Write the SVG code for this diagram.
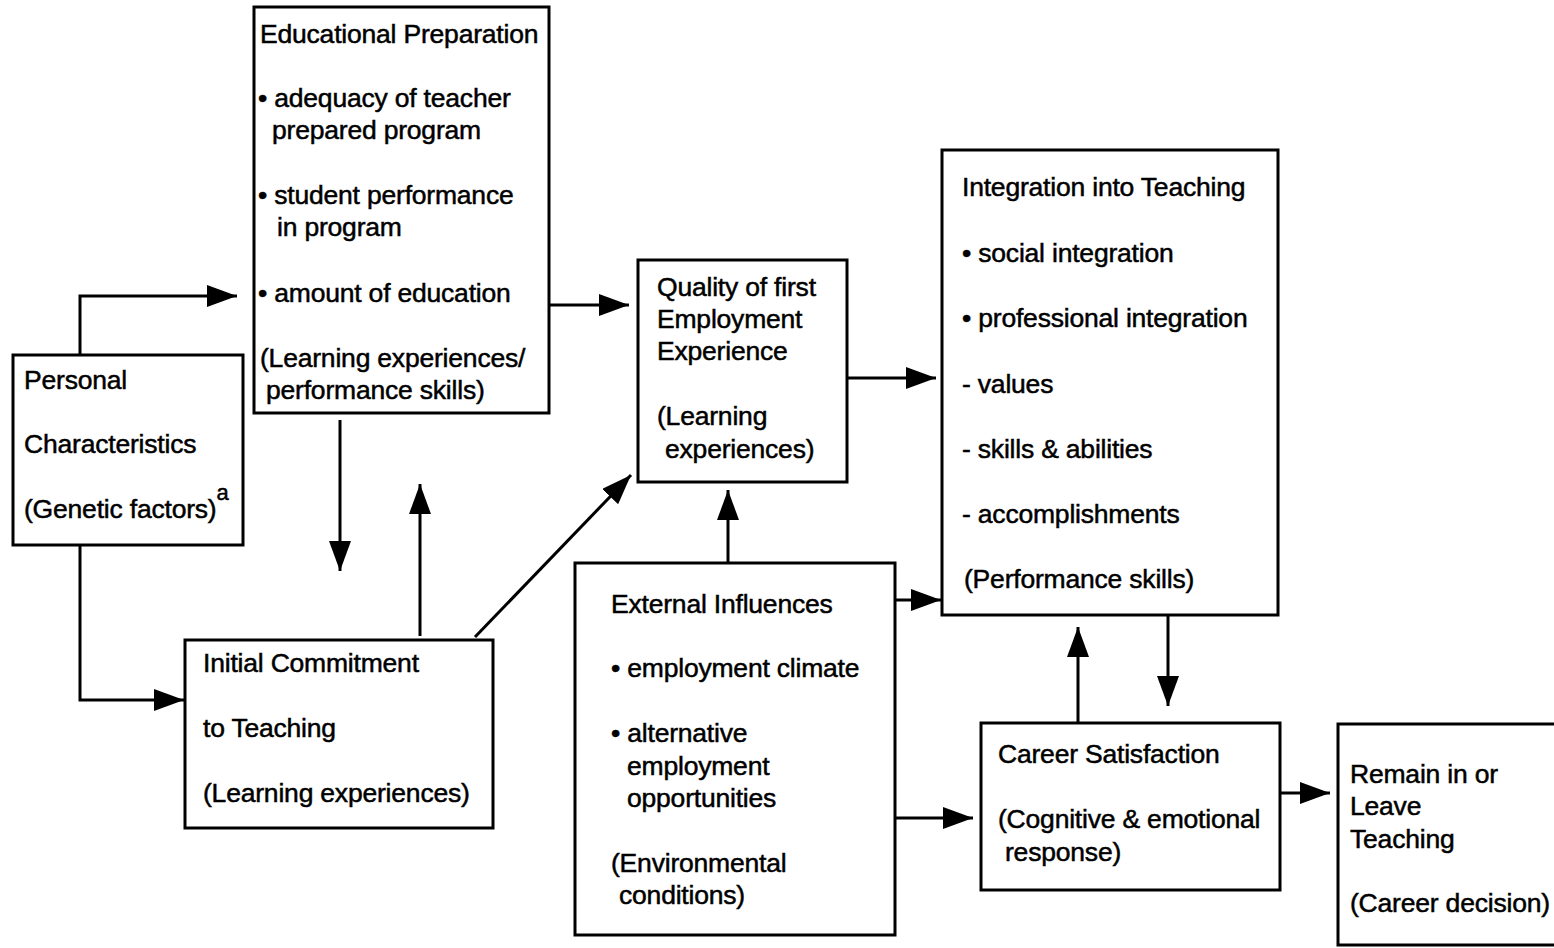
<svg xmlns="http://www.w3.org/2000/svg" width="1554" height="948" viewBox="0 0 1554 948">
<style>
.box{fill:#fff;stroke:#000;stroke-width:3}
.t{font-family:"Liberation Sans",Arial,sans-serif;font-size:26.5px;fill:#000;stroke:#000;stroke-width:0.5;letter-spacing:-0.2px}
.c{fill:none;stroke:#000;stroke-width:3}
</style>
<defs>
<marker id="arr" viewBox="0 0 30 22" refX="30" refY="11" markerWidth="30" markerHeight="22" markerUnits="userSpaceOnUse" orient="auto">
<path d="M0,0 L30,11 L0,22 z" fill="#000"/>
</marker>
</defs>
<rect width="1554" height="948" fill="#fff"/>
<g id="connectors">
<path class="c" d="M80,355 V296 H237" marker-end="url(#arr)"/>
<path class="c" d="M80,545 V700 H184" marker-end="url(#arr)"/>
<path class="c" d="M340,420 V571" marker-end="url(#arr)"/>
<path class="c" d="M420,636 V484" marker-end="url(#arr)"/>
<path class="c" d="M475,637 L631,475" marker-end="url(#arr)"/>
<path class="c" d="M549,305 H629" marker-end="url(#arr)"/>
<path class="c" d="M847,378 H936" marker-end="url(#arr)"/>
<path class="c" d="M728,563 V490" marker-end="url(#arr)"/>
<path class="c" d="M895,600 H941" marker-end="url(#arr)"/>
<path class="c" d="M895,818 H973" marker-end="url(#arr)"/>
<path class="c" d="M1168,615 V706" marker-end="url(#arr)"/>
<path class="c" d="M1078,723 V627" marker-end="url(#arr)"/>
<path class="c" d="M1280,793 H1330" marker-end="url(#arr)"/>
</g>
<g id="personal">
<rect class="box" x="13" y="355" width="230" height="190"/>
<text class="t" x="24" y="389">Personal</text>
<text class="t" x="24" y="453">Characteristics</text>
<text class="t" x="24" y="518">(Genetic factors)<tspan dy="-18" font-size="22">a</tspan></text>
</g>
<g id="educational">
<rect class="box" x="254" y="7" width="295" height="406"/>
<text class="t" x="260" y="43">Educational Preparation</text>
<text class="t" x="258" y="107">• adequacy of teacher</text>
<text class="t" x="272" y="139">prepared program</text>
<text class="t" x="258" y="204">• student performance</text>
<text class="t" x="277" y="236">in program</text>
<text class="t" x="258" y="302">• amount of education</text>
<text class="t" x="260" y="367">(Learning experiences/</text>
<text class="t" x="266" y="399">performance skills)</text>
</g>
<g id="quality">
<rect class="box" x="638" y="260" width="209" height="222"/>
<text class="t" x="657" y="296">Quality of first</text>
<text class="t" x="657" y="328">Employment</text>
<text class="t" x="657" y="360">Experience</text>
<text class="t" x="657" y="425">(Learning</text>
<text class="t" x="665" y="458">experiences)</text>
</g>
<g id="integration">
<rect class="box" x="942" y="150" width="336" height="465"/>
<text class="t" x="962" y="196">Integration into Teaching</text>
<text class="t" x="962" y="262">• social integration</text>
<text class="t" x="962" y="327">• professional integration</text>
<text class="t" x="962" y="393">- values</text>
<text class="t" x="962" y="458">- skills &amp; abilities</text>
<text class="t" x="962" y="523">- accomplishments</text>
<text class="t" x="964" y="588">(Performance skills)</text>
</g>
<g id="initial">
<rect class="box" x="185" y="640" width="308" height="188"/>
<text class="t" x="203" y="672">Initial Commitment</text>
<text class="t" x="203" y="737">to Teaching</text>
<text class="t" x="203" y="802">(Learning experiences)</text>
</g>
<g id="external">
<rect class="box" x="575" y="563" width="320" height="372"/>
<text class="t" x="611" y="613">External Influences</text>
<text class="t" x="611" y="677">• employment climate</text>
<text class="t" x="611" y="742">• alternative</text>
<text class="t" x="627" y="775">employment</text>
<text class="t" x="627" y="807">opportunities</text>
<text class="t" x="611" y="872">(Environmental</text>
<text class="t" x="619" y="904">conditions)</text>
</g>
<g id="career">
<rect class="box" x="981" y="723" width="299" height="167"/>
<text class="t" x="998" y="763">Career Satisfaction</text>
<text class="t" x="998" y="828">(Cognitive &amp; emotional</text>
<text class="t" x="1005" y="861">response)</text>
</g>
<g id="remain">
<rect class="box" x="1338" y="724" width="230" height="221"/>
<text class="t" x="1350" y="783">Remain in or</text>
<text class="t" x="1350" y="815">Leave</text>
<text class="t" x="1350" y="848">Teaching</text>
<text class="t" x="1350" y="912">(Career decision)</text>
</g>
</svg>
